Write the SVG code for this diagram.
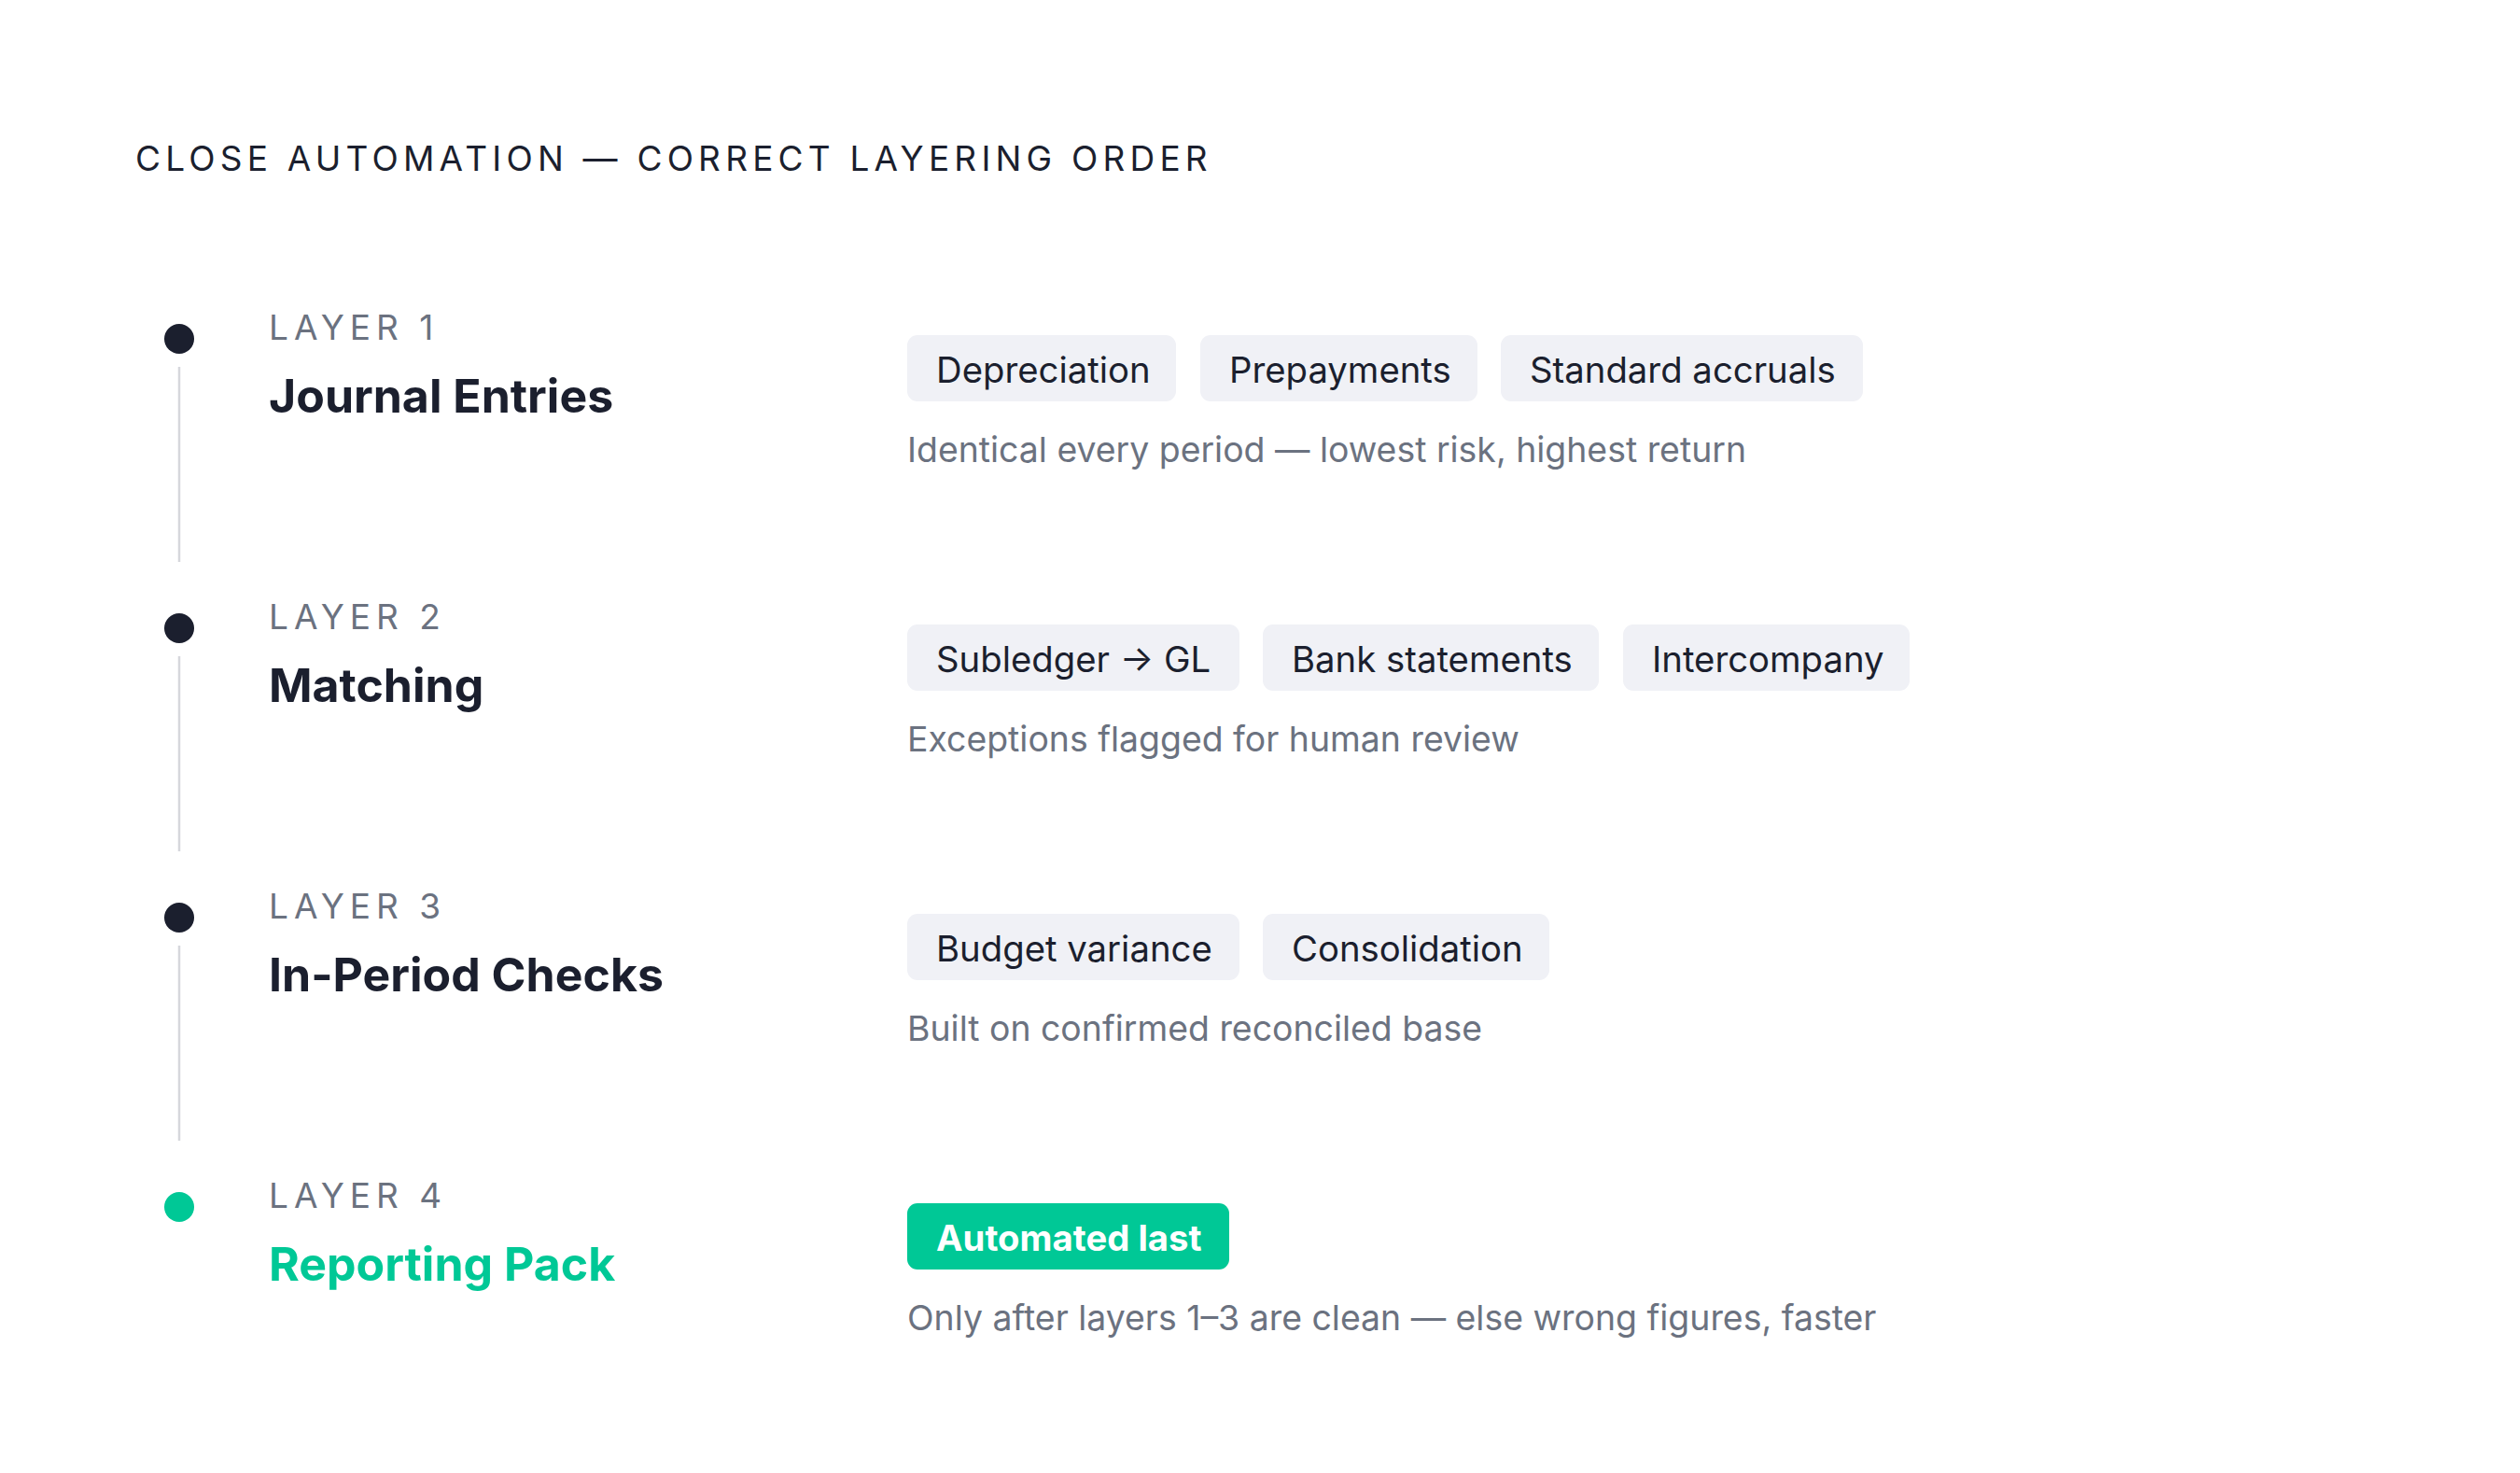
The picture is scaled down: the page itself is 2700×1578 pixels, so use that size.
<svg xmlns="http://www.w3.org/2000/svg" width="2700" height="1578" viewBox="0 0 2700 1578">
<style>
.title{font-family:Inter,"Noto Sans",sans-serif;font-size:37px;letter-spacing:5.2px;fill:#1b1f2e}
.lay{font-family:Inter,"Noto Sans",sans-serif;font-size:37px;letter-spacing:6px;fill:#6b7280}
.name{font-family:Inter,"Noto Sans",sans-serif;font-size:50px;font-weight:700;fill:#1b1f2e}
.chip{fill:#f0f1f6}
.ct{font-family:Inter,"Noto Sans",sans-serif;font-size:38.3px;fill:#1b1f2e}
.desc{font-family:Inter,"Noto Sans",sans-serif;font-size:37.4px;fill:#6b7280}
.dot{fill:#1b1f2e}
.line{stroke:#d6d7dc;stroke-width:2.5}
.green{fill:#00c896}
</style>
<rect width="2700" height="1578" fill="#ffffff"/>
<text class="title" x="145" y="183">CLOSE AUTOMATION — CORRECT LAYERING ORDER</text>
<g id="connectors">
<line class="line" x1="192" y1="393" x2="192" y2="602"/>
<line class="line" x1="192" y1="703" x2="192" y2="912"/>
<line class="line" x1="192" y1="1013" x2="192" y2="1222"/>
</g>
<g id="layer1">
<circle class="dot" cx="192" cy="363" r="16"/>
<text class="lay" x="288" y="364">LAYER 1</text>
<text class="name" x="288" y="442">Journal Entries</text>
<rect class="chip" x="972" y="359" width="288" height="71" rx="11"/>
<text class="ct" x="1003" y="410">Depreciation</text>
<rect class="chip" x="1286" y="359" width="297" height="71" rx="11"/>
<text class="ct" x="1317" y="410">Prepayments</text>
<rect class="chip" x="1608" y="359" width="388" height="71" rx="11"/>
<text class="ct" x="1639" y="410">Standard accruals</text>
<text class="desc" x="972" y="495">Identical every period — lowest risk, highest return</text>
</g>
<g id="layer2">
<circle class="dot" cx="192" cy="673" r="16"/>
<text class="lay" x="288" y="674">LAYER 2</text>
<text class="name" x="288" y="752">Matching</text>
<rect class="chip" x="972" y="669" width="356" height="71" rx="11"/>
<text class="ct" x="1003" y="720">Subledger → GL</text>
<rect class="chip" x="1353" y="669" width="360" height="71" rx="11"/>
<text class="ct" x="1384" y="720">Bank statements</text>
<rect class="chip" x="1739" y="669" width="307" height="71" rx="11"/>
<text class="ct" x="1770" y="720">Intercompany</text>
<text class="desc" x="972" y="805">Exceptions flagged for human review</text>
</g>
<g id="layer3">
<circle class="dot" cx="192" cy="983" r="16"/>
<text class="lay" x="288" y="984">LAYER 3</text>
<text class="name" x="288" y="1062">In-Period Checks</text>
<rect class="chip" x="972" y="979" width="356" height="71" rx="11"/>
<text class="ct" x="1003" y="1030">Budget variance</text>
<rect class="chip" x="1353" y="979" width="307" height="71" rx="11"/>
<text class="ct" x="1384" y="1030">Consolidation</text>
<text class="desc" x="972" y="1115">Built on confirmed reconciled base</text>
</g>
<g id="layer4">
<circle class="green" cx="192" cy="1293" r="16"/>
<text class="lay" x="288" y="1294">LAYER 4</text>
<text class="name" x="288" y="1372" style="fill:#00c896">Reporting Pack</text>
<rect class="green" x="972" y="1289" width="345" height="71" rx="11"/>
<text class="ct" x="1003" y="1340" style="fill:#ffffff;font-weight:700">Automated last</text>
<text class="desc" x="972" y="1425">Only after layers 1–3 are clean — else wrong figures, faster</text>
</g>
</svg>
